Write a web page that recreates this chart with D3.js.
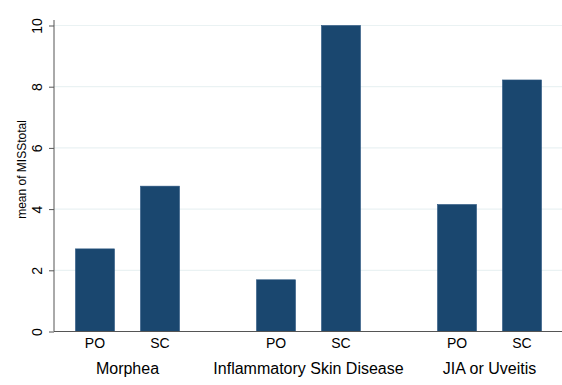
<!DOCTYPE html>
<html>
<head>
<meta charset="utf-8">
<script src="https://cdn.jsdelivr.net/npm/d3@7"></script>
<style>
  body { margin: 0; background: #fff; }
  text { font-family: "Liberation Sans", Arial, Helvetica, sans-serif; fill: #000; }
</style>
</head>
<body>
<div id="chart"></div>
<script>
// Data
const groups = ["Morphea", "Inflammatory Skin Disease", "JIA or Uveitis"];
const types = ["PO", "SC"];
const poValues = [2.70, 1.69, 4.15];
const scValues = [4.75, 10.0, 8.22];
const yTicks = [0, 2, 4, 6, 8, 10];

const W = 562, H = 385;
const margin = { top: 20, right: 0, bottom: 53, left: 54 };

const svg = d3.select("#chart").append("svg")
    .attr("width", W)
    .attr("height", H);

const rows = [];
groups.forEach((g, i) => {
    rows.push({ group: g, type: "PO", value: poValues[i] });
    rows.push({ group: g, type: "SC", value: scValues[i] });
});

// Scales
const x0 = d3.scalePoint()
    .domain(groups)
    .range([margin.left, W + 1])
    .padding(0.406);

const x1 = d3.scaleBand()
    .domain(types)
    .range([-65, 65])
    .paddingInner(0.4)
    .paddingOuter(0.2);

const y = d3.scaleLinear()
    .domain([0, 10])
    .range([331.5, 25.5]);

// Grid lines
svg.append("g")
    .selectAll("line")
    .data(yTicks.filter(d => d > 0))
    .enter()
    .append("line")
    .attr("x1", margin.left)
    .attr("x2", W)
    .attr("y1", d => y(d))
    .attr("y2", d => y(d))
    .attr("stroke", "#eaf2f3")
    .attr("stroke-width", 1.2);

// Bars
svg.append("g")
    .selectAll("rect")
    .data(rows)
    .enter()
    .append("rect")
    .attr("x", d => x0(d.group) + x1(d.type))
    .attr("width", x1.bandwidth())
    .attr("y", d => y(d.value))
    .attr("height", d => y(0) - y(d.value))
    .attr("fill", "#1a476f")
    .attr("stroke", "#2a5580")
    .attr("stroke-width", 0.6);

// Y axis
const yAxis = svg.append("g")
    .attr("transform", `translate(${margin.left},0)`)
    .call(d3.axisLeft(y).tickValues(yTicks).tickSize(5).tickPadding(4));
yAxis.select(".domain").attr("d", `M0,${margin.top}V${y(0)}`).attr("stroke", "#555");
yAxis.selectAll(".tick line").attr("stroke", "#555");
yAxis.selectAll(".tick text")
    .attr("transform", "rotate(-90)")
    .attr("x", 0)
    .attr("y", -12)
    .attr("dy", 0)
    .attr("text-anchor", "middle")
    .style("font-size", "14px");

// Y axis title
svg.append("text")
    .attr("transform", `translate(26,${(y(0) + y(10)) / 2 - 9}) rotate(-90)`)
    .attr("text-anchor", "middle")
    .style("font-size", "12px")
    .text("mean of MISStotal");

// X axis baseline
svg.append("line")
    .attr("x1", margin.left)
    .attr("x2", W)
    .attr("y1", y(0))
    .attr("y2", y(0))
    .attr("stroke", "#555");

// Bar labels
svg.append("g")
    .selectAll("text")
    .data(rows)
    .enter()
    .append("text")
    .attr("x", d => x0(d.group) + x1(d.type) + x1.bandwidth() / 2)
    .attr("y", 348)
    .attr("text-anchor", "middle")
    .style("font-size", "14px")
    .text(d => d.type);

// Group labels
svg.append("g")
    .selectAll("text")
    .data(groups)
    .enter()
    .append("text")
    .attr("x", d => x0(d))
    .attr("y", 374)
    .attr("text-anchor", "middle")
    .style("font-size", "16px")
    .text(d => d);
</script>
</body>
</html>
